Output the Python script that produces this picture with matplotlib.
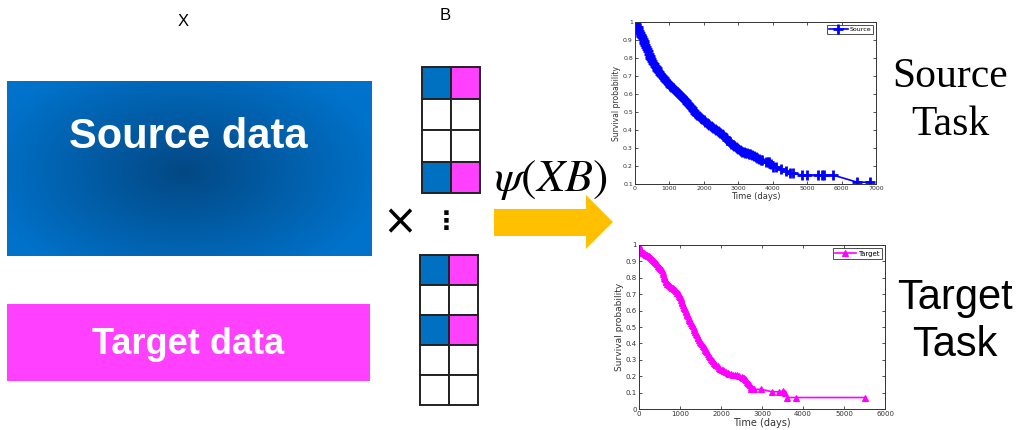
import numpy as np
import matplotlib.pyplot as plt
import matplotlib.patches as mpatches

# Kaplan-Meier estimates, source task: (time in days, survival probability)
src_km = [(0, 1.0), (20, 0.99), (40, 0.985), (60, 0.975), (80, 0.97), (100, 0.96),
          (120, 0.95), (140, 0.94), (160, 0.93), (180, 0.922), (200, 0.915),
          (225, 0.905), (250, 0.895), (275, 0.885), (300, 0.875), (325, 0.862),
          (350, 0.85), (375, 0.838), (400, 0.825), (425, 0.812), (450, 0.80),
          (475, 0.792), (500, 0.785), (525, 0.775), (550, 0.765), (575, 0.757),
          (600, 0.75), (625, 0.742), (650, 0.735), (675, 0.727), (700, 0.72),
          (725, 0.712), (750, 0.705), (775, 0.70), (800, 0.695), (835, 0.687),
          (870, 0.68), (905, 0.672), (940, 0.665), (970, 0.66), (1000, 0.655),
          (1030, 0.647), (1060, 0.64), (1090, 0.635), (1120, 0.63), (1150, 0.622),
          (1180, 0.615), (1210, 0.61), (1240, 0.605), (1270, 0.60), (1300, 0.595),
          (1330, 0.59), (1360, 0.585), (1390, 0.577), (1420, 0.57), (1450, 0.565),
          (1480, 0.56), (1510, 0.552), (1540, 0.545), (1570, 0.54), (1600, 0.535),
          (1630, 0.527), (1660, 0.52), (1690, 0.512), (1720, 0.505), (1750, 0.497),
          (1780, 0.49), (1815, 0.485), (1850, 0.48), (1885, 0.472), (1920, 0.465),
          (1960, 0.46), (2000, 0.455), (2040, 0.447), (2080, 0.44), (2120, 0.435),
          (2160, 0.43), (2200, 0.422), (2240, 0.415), (2280, 0.41), (2320, 0.405),
          (2360, 0.40), (2400, 0.395), (2440, 0.39), (2480, 0.385), (2520, 0.377),
          (2560, 0.37), (2600, 0.362), (2640, 0.355), (2680, 0.347), (2720, 0.34),
          (2760, 0.332), (2800, 0.325), (2840, 0.317), (2880, 0.31), (2920, 0.305),
          (2960, 0.30), (3000, 0.295), (3040, 0.29), (3080, 0.285), (3120, 0.28),
          (3160, 0.278), (3200, 0.275), (3250, 0.27), (3300, 0.265), (3350, 0.265),
          (3400, 0.26), (3450, 0.255), (3500, 0.25), (3550, 0.245), (3600, 0.24),
          (3650, 0.235), (3700, 0.235), (3800, 0.225), (3850, 0.22), (3900, 0.22),
          (3950, 0.21), (4000, 0.195), (4100, 0.195), (4250, 0.185), (4400, 0.175),
          (4500, 0.16), (4600, 0.16), (4840, 0.15), (5000, 0.15), (5320, 0.15),
          (5420, 0.15), (5490, 0.15), (5750, 0.15), (6450, 0.11), (6830, 0.11)]

# Kaplan-Meier estimates, target task
tgt_km = [(0, 1.0), (10, 0.99), (20, 0.98), (30, 0.972), (40, 0.965), (60, 0.96),
          (80, 0.955), (100, 0.952), (120, 0.95), (145, 0.945), (170, 0.94),
          (195, 0.937), (220, 0.935), (245, 0.93), (270, 0.925), (295, 0.92),
          (320, 0.915), (345, 0.907), (370, 0.90), (395, 0.895), (420, 0.89),
          (445, 0.882), (470, 0.875), (495, 0.867), (520, 0.86), (540, 0.852),
          (560, 0.845), (575, 0.835), (590, 0.825), (605, 0.812), (620, 0.80),
          (635, 0.79), (650, 0.78), (670, 0.772), (690, 0.765), (710, 0.76),
          (730, 0.755), (755, 0.75), (780, 0.745), (805, 0.74), (830, 0.735),
          (855, 0.73), (880, 0.725), (905, 0.717), (930, 0.71), (950, 0.705),
          (970, 0.70), (985, 0.692), (1000, 0.685), (1015, 0.675), (1030, 0.665),
          (1045, 0.655), (1060, 0.645), (1075, 0.635), (1090, 0.625), (1105, 0.617),
          (1120, 0.61), (1135, 0.60), (1150, 0.59), (1165, 0.582), (1180, 0.575),
          (1195, 0.565), (1210, 0.555), (1230, 0.545), (1250, 0.535), (1270, 0.525),
          (1290, 0.515), (1310, 0.505), (1330, 0.495), (1350, 0.482), (1370, 0.47),
          (1390, 0.46), (1410, 0.45), (1430, 0.44), (1450, 0.43), (1470, 0.42),
          (1490, 0.41), (1510, 0.402), (1530, 0.395), (1555, 0.387), (1580, 0.38),
          (1600, 0.37), (1620, 0.36), (1640, 0.352), (1660, 0.345), (1680, 0.335),
          (1700, 0.325), (1725, 0.315), (1750, 0.305), (1775, 0.297), (1800, 0.29),
          (1830, 0.282), (1860, 0.275), (1890, 0.267), (1920, 0.26), (1950, 0.252),
          (1980, 0.245), (2015, 0.24), (2050, 0.235), (2085, 0.23), (2120, 0.225),
          (2160, 0.22), (2200, 0.215), (2250, 0.212), (2300, 0.21), (2350, 0.207),
          (2400, 0.205), (2450, 0.20), (2500, 0.195), (2530, 0.192), (2560, 0.19),
          (2590, 0.182), (2620, 0.175), (2640, 0.167), (2660, 0.16), (2680, 0.152),
          (2700, 0.145), (2720, 0.135), (2740, 0.125), (2770, 0.122), (2800, 0.12),
          (2980, 0.12), (3250, 0.105), (3420, 0.105), (3520, 0.11), (3560, 0.10),
          (3620, 0.07), (3830, 0.07), (5500, 0.07)]

# which rows of the coefficient matrix B are active (1) or empty (0)
b_top_rows = [1, 0, 0, 1]
b_bot_rows = [1, 0, 1, 0, 0]

BLUE = '#0070C0'
MAGENTA = '#FF40FF'
W, H = 1021, 430

fig = plt.figure(figsize=(W / 100, H / 100), dpi=100)
ax = fig.add_axes([0, 0, 1, 1])
ax.set_xlim(0, W)
ax.set_ylim(H, 0)
ax.axis('off')

# ---------- data blocks ----------
x0, x1, y0, y1 = 7, 371, 81, 256
yy, xx = np.mgrid[y0:y1:200j, x0:x1:400j]
d = np.sqrt(((xx - 183) / 200.0) ** 2 + ((yy - 172) / 120.0) ** 2)
d = np.clip(d, 0, 1)[..., None]
c_mid = np.array([0x03, 0x48, 0x84]) / 255
c_edge = np.array([0x00, 0x72, 0xCA]) / 255
grad = c_mid * (1 - d) + c_edge * d
ax.imshow(grad, extent=(x0, x1, y1, y0), aspect='auto', zorder=1)
ax.text(188, 137, 'Source data', color='white', fontsize=30, fontweight='bold',
        family='Liberation Sans', ha='center', va='center', zorder=2)

ax.add_patch(mpatches.Rectangle((7, 304), 363, 77, facecolor=MAGENTA,
                                edgecolor='none', zorder=1))
ax.text(188, 344, 'Target data', color='white', fontsize=26, fontweight='bold',
        family='Liberation Sans', ha='center', va='center', zorder=2)

ax.text(183, 22, 'X', fontsize=12, family='Liberation Sans', ha='center', va='center')
ax.text(445, 15, 'B', fontsize=12, family='Liberation Sans', ha='center', va='center')


# ---------- matrix B ----------
def draw_matrix(left, top, cw, ch, rows):
    for i, on in enumerate(rows):
        for j, col in enumerate([BLUE, MAGENTA]):
            fc = col if on else 'white'
            ax.add_patch(mpatches.Rectangle((left + j * cw, top + i * ch), cw, ch,
                                            facecolor=fc, edgecolor='#222222',
                                            lw=1.4, zorder=3))


draw_matrix(422, 67, 29, 31.5, b_top_rows)
draw_matrix(420, 255, 29, 30, b_bot_rows)

ax.text(400, 222, '×', fontsize=30, family='DejaVu Sans', ha='center', va='center')
ax.text(446, 222, '⋮', fontsize=18, family='DejaVu Sans', fontweight='bold',
        ha='center', va='center')

# ---------- arrow ----------
arrow = mpatches.Polygon([(494, 209), (586, 209), (586, 195), (613, 222),
                          (586, 249), (586, 236), (494, 236)], closed=True,
                         facecolor='#FFC000', edgecolor='none', zorder=2)
ax.add_patch(arrow)
plt.rcParams['mathtext.fontset'] = 'stix'
ax.text(551, 179, r'$\psi(XB)$', fontsize=33, ha='center', va='center')

# ---------- task labels ----------
ax.text(950, 77, 'Source', fontsize=30, family='Liberation Serif',
        ha='center', va='center')
ax.text(950, 125, 'Task', fontsize=30, family='Liberation Serif',
        ha='center', va='center')
ax.text(955, 298, 'Target', fontsize=30, family='Liberation Sans',
        ha='center', va='center')
ax.text(955, 345, 'Task', fontsize=30, family='Liberation Sans',
        ha='center', va='center')


# ---------- survival curves ----------
def style_km(a, xmax, ymin, xlabel_size, tick_size):
    a.set_xlim(0, xmax)
    a.set_ylim(ymin, 1)
    a.tick_params(direction='in', length=2.5, width=0.6, top=True, right=True,
                  labelsize=tick_size, colors='#333333', pad=1.5)
    for s in a.spines.values():
        s.set_linewidth(0.7)
        s.set_color('#333333')
    a.set_xlabel('Time (days)', fontsize=xlabel_size, labelpad=0.5, color='#333333')
    a.set_ylabel('Survival probability', fontsize=xlabel_size - 0.5,
                 labelpad=1.5, color='#333333')


src_t, src_s = zip(*src_km)
tgt_t, tgt_s = zip(*tgt_km)

ax1 = fig.add_axes([635 / W, 1 - 184 / H, 241 / W, 162 / H])
ax1.plot(src_t, src_s, color='#0000FF', lw=1.2, marker='+', ms=7, mew=2.0,
         label='Source')
ax1.set_xticks(range(0, 7001, 1000))
ax1.set_yticks(np.round(np.arange(0.1, 1.01, 0.1), 1))
ax1.set_yticklabels(['0.1', '0.2', '0.3', '0.4', '0.5', '0.6', '0.7', '0.8', '0.9', '1'])
style_km(ax1, 7000, 0.1, 6, 4.5)
ax1.legend(loc='upper right', fontsize=4.5, frameon=True, fancybox=False,
           edgecolor='black', handlelength=3, borderpad=0.3, borderaxespad=0.5,
           handletextpad=0.3).get_frame().set_linewidth(0.6)

ax2 = fig.add_axes([639 / W, 1 - 409 / H, 246 / W, 164 / H])
ax2.plot(tgt_t, tgt_s, color='#FF00FF', lw=1.2, marker='^', ms=5, mew=0.8,
         label='Target')
ax2.set_xticks(range(0, 6001, 1000))
ax2.set_yticks(np.round(np.arange(0, 1.01, 0.1), 1))
ax2.set_yticklabels(['0', '0.1', '0.2', '0.3', '0.4', '0.5', '0.6', '0.7', '0.8', '0.9', '1'])
style_km(ax2, 6000, 0, 7, 5)
ax2.legend(loc='upper right', fontsize=5, frameon=True, fancybox=False,
           edgecolor='black', handlelength=3, borderpad=0.3, borderaxespad=0.5,
           handletextpad=0.3).get_frame().set_linewidth(0.6)

fig.savefig('out.png', dpi=100)
